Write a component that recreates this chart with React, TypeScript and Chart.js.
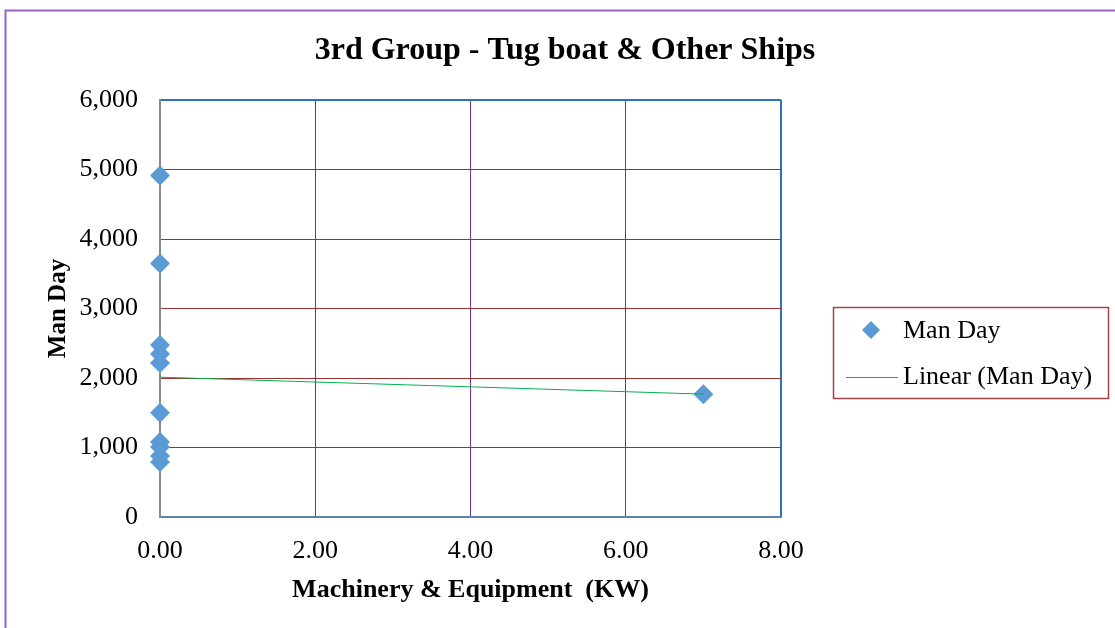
import React, { useEffect, useRef } from 'react';
import { Chart, registerables } from 'chart.js';

Chart.register(...registerables);

// ---- data ----
const chartTitle = '3rd Group - Tug boat & Other Ships';
const xAxisTitle = 'Machinery & Equipment  (KW)';
const yAxisTitle = 'Man Day';
const seriesName = 'Man Day';
const trendName = 'Linear (Man Day)';

const manDayX = [0, 0, 0, 0, 0, 0, 0, 0, 0, 0, 7];
const manDayY = [4914, 3647, 2475, 2345, 2216, 1500, 1079, 1007, 878, 791, 1765];

const trendX = [0, 7];
const trendY = [2012, 1768];

const xMin = 0;
const xMax = 8;
const xStep = 2;
const yMin = 0;
const yMax = 6000;
const yStep = 1000;

// ---- styles ----
const FONT = "'Liberation Serif', 'Times New Roman', serif";
const POINT_COLOR = '#5B9BD5';
const TREND_COLOR = '#00B050';
const HGRID = '#9A3030';
const VGRID = '#7030A0';
const PLOT_BORDER = '#2A72C4';
const FRAME = '#9A62C9';

const decorPlugin = {
  id: 'decor',
  afterDraw(chart: any) {
    const ctx = chart.ctx as CanvasRenderingContext2D;
    ctx.save();
    // outer frame
    ctx.strokeStyle = FRAME;
    ctx.lineWidth = 2;
    ctx.beginPath();
    ctx.moveTo(5.5, 640);
    ctx.lineTo(5.5, 10.5);
    ctx.lineTo(1200, 10.5);
    ctx.stroke();

    // title
    ctx.fillStyle = '#000';
    ctx.font = `bold 32px ${FONT}`;
    ctx.textAlign = 'center';
    ctx.textBaseline = 'middle';
    ctx.fillText(chartTitle, 565, 51);

    // legend box
    const lx = 833, ly = 307, lw = 275, lh = 91;
    ctx.strokeStyle = '#A24545';
    ctx.lineWidth = 1.5;
    ctx.strokeRect(lx + 0.5, ly + 0.5, lw, lh);

    // item 1 - diamond
    const dx = 871, dy = 330, r = 9;
    ctx.fillStyle = POINT_COLOR;
    ctx.beginPath();
    ctx.moveTo(dx, dy - r);
    ctx.lineTo(dx + r, dy);
    ctx.lineTo(dx, dy + r);
    ctx.lineTo(dx - r, dy);
    ctx.closePath();
    ctx.fill();

    // item 2 - line
    ctx.strokeStyle = TREND_COLOR;
    ctx.lineWidth = 1;
    ctx.beginPath();
    ctx.moveTo(846, 377.5);
    ctx.lineTo(898, 377.5);
    ctx.stroke();

    ctx.fillStyle = '#000';
    ctx.font = `26px ${FONT}`;
    ctx.textBaseline = 'middle';
    ctx.textAlign = 'left';
    ctx.fillText(seriesName, 903, 331);
    ctx.fillText(trendName, 903, 377);
    ctx.restore();
  },
};

export default function App() {
  const ref = useRef<HTMLCanvasElement>(null);

  useEffect(() => {
    document.body.style.margin = '0';
    const canvas = ref.current!;
    const scatterData = manDayX.map((x, i) => ({ x, y: manDayY[i] }));
    const trendData = trendX.map((x, i) => ({ x, y: trendY[i] }));

    const chart = new Chart(canvas, {
      type: 'scatter',
      data: {
        datasets: [
          {
            label: trendName,
            data: trendData,
            showLine: true,
            borderColor: TREND_COLOR,
            borderWidth: 1,
            pointRadius: 0,
            order: 0,
            clip: false as any,
          },
          {
            label: seriesName,
            data: scatterData,
            pointStyle: 'rectRot',
            pointRadius: 10,
            backgroundColor: POINT_COLOR,
            borderColor: POINT_COLOR,
            borderWidth: 0,
            order: 1,
            clip: false as any,
          },
        ],
      },
      options: {
        responsive: false,
        animation: false,
        devicePixelRatio: 1,
        color: '#000',
        layout: { padding: { left: 0, right: 334, top: 100, bottom: 0 } },
        plugins: {
          legend: { display: false },
          tooltip: { enabled: false },
          title: { display: false },
        },
        scales: {
          x: {
            type: 'linear',
            min: xMin,
            max: xMax,
            afterFit(scale: any) {
              scale.height = 111;
            },
            ticks: {
              stepSize: xStep,
              color: '#000',
              padding: 19,
              font: { family: FONT, size: 26 },
              callback: (v: any) => Number(v).toFixed(2),
            },
            grid: {
              drawTicks: false,
              color: (c: any) => (c.tick && c.tick.value === xMax ? PLOT_BORDER : VGRID),
              lineWidth: (c: any) => (c.tick && c.tick.value === xMax ? 2 : 1),
            },
            border: { display: true, color: '#5F82A8', width: 2 },
            title: {
              display: true,
              text: xAxisTitle,
              color: '#000',
              font: { family: FONT, size: 26, weight: 'bold', lineHeight: 1.2 },
              padding: { top: 0, bottom: 22 },
            },
          },
          y: {
            type: 'linear',
            min: yMin,
            max: yMax,
            afterFit(scale: any) {
              scale.width = 160;
            },
            ticks: {
              stepSize: yStep,
              color: '#000',
              padding: 22,
              font: { family: FONT, size: 26 },
              callback: (v: any) => Number(v).toLocaleString('en-US'),
            },
            grid: {
              drawTicks: false,
              color: (c: any) => (c.tick && c.tick.value === yMax ? PLOT_BORDER : HGRID),
              lineWidth: (c: any) => (c.tick && c.tick.value === yMax ? 2 : 1),
            },
            border: { display: true, color: '#8A8A8A', width: 2 },
            title: {
              display: true,
              text: yAxisTitle,
              color: '#000',
              font: { family: FONT, size: 25, weight: 'bold', lineHeight: 1.2 },
              padding: { top: 44, bottom: 0 },
            },
          },
        },
      },
      plugins: [decorPlugin],
    } as any);

    return () => chart.destroy();
  }, []);

  return (
    <div style={{ width: 1115, height: 628, position: 'relative', background: '#fff' }}>
      <canvas ref={ref} width={1115} height={628} style={{ display: 'block' }} />
    </div>
  );
}
